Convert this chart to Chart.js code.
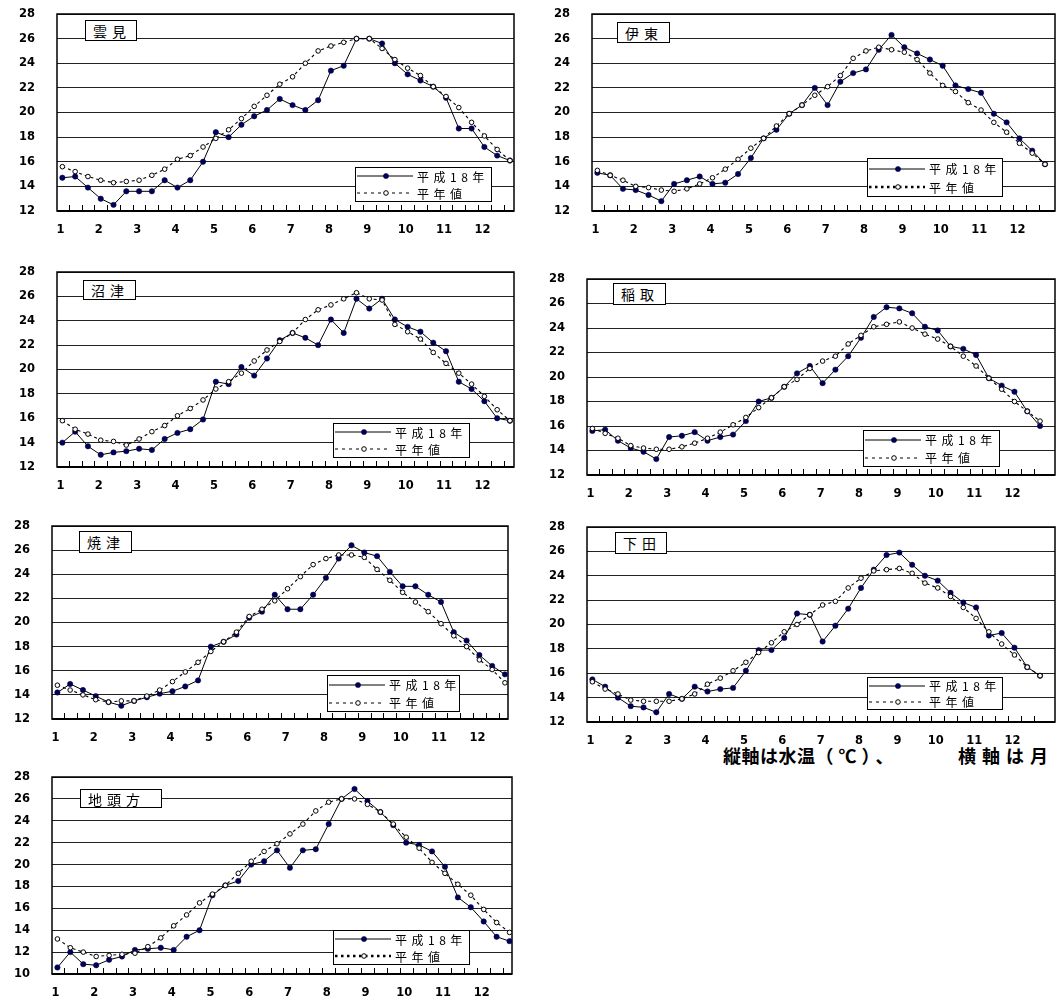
<!DOCTYPE html>
<html lang="ja">
<head>
<meta charset="utf-8">
<script src="https://cdn.jsdelivr.net/npm/chart.js@4/dist/chart.umd.min.js"></script>
<style>
  html, body { margin: 0; padding: 0; background: #fff; }
  body { position: relative; width: 1060px; height: 1000px; overflow: hidden; }
  canvas { position: absolute; }
  .station {
    position: absolute; box-sizing: border-box; background: #fff;
    border: 1px solid #000; padding-left: 7px;
    font: 14px "Noto Sans CJK JP", sans-serif; letter-spacing: 5px; color: #000;
    display: flex; align-items: center; white-space: nowrap;
  }
  .legend {
    position: absolute; box-sizing: border-box; background: #fff;
    border: 1px solid #000;
    font: 12px "Noto Sans CJK JP", sans-serif; letter-spacing: 4.5px; color: #000;
  }
  .legend .row { position: absolute; left: 0; width: 200px; height: 16px; display: flex; align-items: center; white-space: nowrap; }
  .legend svg { display: block; flex: none; margin-right: 3px; }
  .note {
    position: absolute; left: 723px; top: 744px; white-space: nowrap;
    font: bold 18px "Noto Sans CJK JP", sans-serif; line-height: 22px; color: #000;
  }
  .note .a { letter-spacing: 0.5px; }
  .note .b { letter-spacing: 5px; }
  .note .c { position: absolute; left: 235px; top: 0; letter-spacing: 6px; }
</style>
</head>
<body>
<div class="note"><span class="a">縦軸は水温</span><span class="b">（℃）、</span><span class="c">横軸は月</span></div>
<script>
// ---- categories: 36 ten-day periods (上旬・中旬・下旬 of each month) ----
const months = ['1', '2', '3', '4', '5', '6', '7', '8', '9', '10', '11', '12'];
const decades = ['上旬', '中旬', '下旬'];
const periods = months.flatMap(m => decades.map(d => m + '月' + d));

const seriesNames = ['平成18年', '平年値'];

// ---- water temperature (°C), 平成18年 and 平年値, per station ----
const kumomi2006 = [14.7,14.8,13.9,13.0,12.5,13.6,13.6,13.6,14.5,13.9,14.5,16.0,18.4,18.0,19.0,19.7,20.2,21.1,20.6,20.2,21.0,23.4,23.8,26.0,26.0,25.6,24.0,23.1,22.6,22.1,21.2,18.7,18.7,17.2,16.5,16.1];
const kumomiNormal = [15.6,15.2,14.8,14.5,14.3,14.4,14.5,14.9,15.4,16.2,16.5,17.2,17.9,18.6,19.5,20.5,21.4,22.3,22.9,24.0,25.0,25.4,25.7,26.0,26.0,25.2,24.3,23.6,23.0,22.1,21.3,20.4,19.2,18.1,17.0,16.1];

const ito2006 = [15.1,14.9,13.8,13.7,13.3,12.8,14.2,14.5,14.8,14.2,14.3,15.0,16.3,17.9,18.6,19.9,20.6,22.0,20.6,22.5,23.2,23.5,25.1,26.3,25.3,24.8,24.3,23.8,22.2,21.9,21.6,19.9,19.2,17.9,16.9,15.8];
const itoNormal = [15.3,14.9,14.5,14.0,13.9,13.7,13.6,13.8,14.2,14.7,15.4,16.2,17.1,17.9,18.9,19.9,20.6,21.4,22.1,23.0,24.4,25.0,25.3,25.1,24.9,24.3,23.2,22.2,21.7,20.8,20.2,19.2,18.4,17.5,16.7,15.8];

const numazu2006 = [14.0,14.9,13.7,13.0,13.2,13.3,13.5,13.4,14.3,14.8,15.1,15.9,19.0,18.8,20.2,19.5,20.9,22.4,23.0,22.6,22.0,24.1,23.0,25.8,25.0,25.8,24.1,23.5,23.1,22.2,21.5,19.0,18.4,17.4,16.0,15.8];
const numazuNormal = [15.8,15.1,14.7,14.2,14.1,13.8,14.3,14.9,15.4,16.2,16.8,17.5,18.4,19.0,19.7,20.7,21.6,22.3,23.0,24.1,24.9,25.3,25.8,26.3,25.8,25.7,23.7,23.1,22.5,21.4,20.5,19.7,18.8,17.8,16.7,15.8];

const inatori2006 = [15.6,15.7,14.8,14.2,13.9,13.3,15.1,15.2,15.5,14.8,15.1,15.3,16.4,18.0,18.3,19.2,20.3,20.9,19.5,20.6,21.7,23.2,24.9,25.7,25.6,25.2,24.1,23.8,22.5,22.3,21.8,19.9,19.3,18.8,17.2,16.0];
const inatoriNormal = [15.8,15.4,15.0,14.4,14.2,14.1,14.1,14.3,14.6,15.0,15.5,16.1,16.7,17.5,18.3,19.2,19.8,20.7,21.3,21.7,22.7,23.4,24.1,24.3,24.5,24.0,23.5,23.1,22.5,21.7,20.9,19.9,19.0,18.0,17.2,16.4];

const yaizu2006 = [14.2,14.9,14.4,13.9,13.4,13.1,13.5,13.8,14.1,14.3,14.7,15.2,18.0,18.4,19.0,20.4,20.9,22.3,21.1,21.1,22.3,23.7,25.3,26.4,25.8,25.5,24.2,23.0,23.0,22.3,21.7,19.2,18.5,17.3,16.4,15.7];
const yaizuNormal = [14.8,14.4,14.0,13.6,13.4,13.5,13.5,13.9,14.4,15.1,15.9,16.7,17.6,18.4,19.2,20.5,21.1,21.8,22.8,23.8,24.8,25.3,25.6,25.6,25.4,24.4,23.5,22.5,21.7,20.9,19.9,18.9,18.0,16.9,16.1,15.0];

const shimoda2006 = [15.5,14.9,14.0,13.3,13.2,12.8,14.3,13.9,14.9,14.5,14.7,14.8,16.2,17.9,17.9,18.9,20.9,20.8,18.6,19.9,21.3,23.0,24.5,25.7,25.9,24.9,24.0,23.6,22.6,21.8,21.4,19.1,19.3,18.1,16.5,15.8];
const shimodaNormal = [15.3,14.7,14.3,13.8,13.7,13.7,13.7,13.9,14.3,15.1,15.6,16.2,16.9,17.7,18.5,19.4,20.0,20.8,21.6,21.9,23.0,23.8,24.4,24.5,24.6,24.2,23.4,23.0,22.3,21.4,20.5,19.4,18.4,17.5,16.5,15.8];

const jitogata2006 = [10.6,12.0,10.9,10.8,11.3,11.6,12.2,12.3,12.4,12.2,13.4,14.0,17.2,18.1,18.5,20.0,20.3,21.3,19.7,21.3,21.4,23.7,26.0,26.9,25.8,24.8,23.6,22.0,21.8,21.2,19.8,17.0,16.1,14.8,13.4,13.0];
const jitogataNormal = [13.2,12.4,12.0,11.6,11.7,11.8,11.9,12.5,13.3,14.4,15.4,16.5,17.3,18.1,19.2,20.3,21.2,21.9,22.8,23.7,24.9,25.7,26.0,26.0,25.5,24.8,23.7,22.5,21.5,20.2,19.2,18.2,17.2,15.9,14.7,13.8];

// ---- panel layout (plot rectangle, label box, legend box) ----
const panels = [
  { name: '雲見',   obs: kumomi2006,   norm: kumomiNormal,   plot: [57, 14, 518, 211],   yMin: 12, unit: 12.9,  box: [85, 20, 52, 21],   legend: [355, 167, 137, 35], heavyDots: false },
  { name: '伊東',   obs: ito2006,      norm: itoNormal,      plot: [592, 14, 1059, 211], yMin: 12, unit: 12.9,  box: [617, 22, 53, 21],  legend: [867, 158, 136, 39], heavyDots: true },
  { name: '沼津',   obs: numazu2006,   norm: numazuNormal,   plot: [57, 272, 518, 467],  yMin: 12, unit: 12.9,  box: [83, 280, 53, 20],  legend: [333, 423, 137, 35], heavyDots: false },
  { name: '稲取',   obs: inatori2006,  norm: inatoriNormal,  plot: [587, 279, 1059, 475], yMin: 12, unit: 12.9, box: [613, 283, 53, 22], legend: [863, 430, 137, 37], heavyDots: false },
  { name: '焼津',   obs: yaizu2006,    norm: yaizuNormal,    plot: [52, 526, 512, 719],  yMin: 12, unit: 12.9,  box: [79, 531, 53, 22],  legend: [327, 675, 133, 37], heavyDots: false },
  { name: '下田',   obs: shimoda2006,  norm: shimodaNormal,  plot: [587, 527, 1059, 722], yMin: 12, unit: 12.9, box: [615, 532, 52, 22], legend: [867, 677, 136, 33], heavyDots: false },
  { name: '地頭方', obs: jitogata2006, norm: jitogataNormal, plot: [52, 777, 516, 974],  yMin: 10, unit: 13.03, box: [80, 789, 82, 19], legend: [333, 930, 137, 35], heavyDots: true }
];

const X_MIN = -0.42;
const monthTickValues = months.map((m, k) => 3 * k - 0.15);
const periodTickMarks = periods.slice(1).map((p, i) => i + 0.5);

const tickFont = { family: 'DejaVu Sans', weight: 'bold', size: 11.5 };

// plot frame on all four sides, plus short inward tick marks between ten-day periods
const framePlugin = {
  id: 'frame',
  beforeDatasetsDraw(chart) {
    const { ctx, chartArea: a } = chart;
    const xs = chart.scales.x;
    ctx.save();
    ctx.strokeStyle = '#000';
    ctx.lineWidth = 1;
    ctx.beginPath();
    periodTickMarks.forEach(v => {
      const px = Math.round(xs.getPixelForValue(v)) + 0.5;
      ctx.moveTo(px, a.bottom);
      ctx.lineTo(px, a.bottom - 6);
    });
    ctx.stroke();
    ctx.lineWidth = 1.5;
    ctx.strokeRect(a.left, a.top, a.right - a.left, a.bottom - a.top);
    ctx.lineWidth = 2;
    ctx.beginPath();
    ctx.moveTo(a.left, a.bottom);
    ctx.lineTo(a.right, a.bottom);
    ctx.stroke();
    ctx.restore();
  }
};

function addStationBox(p) {
  const d = document.createElement('div');
  d.className = 'station';
  const [l, t, w, h] = p.box;
  Object.assign(d.style, { left: l + 'px', top: t + 'px', width: w + 'px', height: h + 'px' });
  d.textContent = p.name;
  document.body.appendChild(d);
}

function legendSample(solid, heavy) {
  const NS = 'http://www.w3.org/2000/svg';
  const svg = document.createElementNS(NS, 'svg');
  svg.setAttribute('width', '58'); svg.setAttribute('height', '10');
  const line = document.createElementNS(NS, 'line');
  line.setAttribute('x1', '1'); line.setAttribute('x2', '57');
  line.setAttribute('y1', '5'); line.setAttribute('y2', '5');
  line.setAttribute('stroke', '#000');
  if (solid) {
    line.setAttribute('stroke-width', '1');
  } else if (heavy) {
    line.setAttribute('stroke-width', '2.4');
    line.setAttribute('stroke-dasharray', '2.5 3.5');
  } else {
    line.setAttribute('stroke-width', '1');
    line.setAttribute('stroke-dasharray', '3 4');
  }
  svg.appendChild(line);
  const c = document.createElementNS(NS, 'circle');
  c.setAttribute('cx', '30'); c.setAttribute('cy', '5');
  c.setAttribute('r', solid ? '2.6' : '2.3');
  c.setAttribute('fill', solid ? '#00005a' : '#fff');
  c.setAttribute('stroke', solid ? '#00003a' : '#000');
  c.setAttribute('stroke-width', solid ? '0.5' : '1');
  svg.appendChild(c);
  return svg;
}

function addLegend(p) {
  const [l, t, w, h] = p.legend;
  const box = document.createElement('div');
  box.className = 'legend';
  Object.assign(box.style, { left: l + 'px', top: t + 'px', width: w + 'px', height: h + 'px' });
  [0.27, 0.75].forEach((frac, k) => {
    const row = document.createElement('div');
    row.className = 'row';
    row.style.top = (h * frac - 9) + 'px';
    row.appendChild(legendSample(k === 0, p.heavyDots));
    const s = document.createElement('span');
    s.textContent = seriesNames[k];
    row.appendChild(s);
    box.appendChild(row);
  });
  document.body.appendChild(box);
}

function buildPanel(p) {
  const [L, T, R, B] = p.plot;
  const yAxisW = 50, padTop = 8, xAxisH = 28;
  const cLeft = L - yAxisW, cTop = T - padTop;
  const w = R - cLeft + 1, h = B - cTop + xAxisH;
  const xMax = X_MIN + (R - L) / p.unit;

  const canvas = document.createElement('canvas');
  canvas.width = w; canvas.height = h;
  Object.assign(canvas.style, { left: cLeft + 'px', top: cTop + 'px', width: w + 'px', height: h + 'px' });
  document.body.appendChild(canvas);

  const toPoints = arr => arr.map((v, i) => ({ x: i, y: v }));
  const noEdgePadding = axis => {
    axis.paddingTop = 0; axis.paddingBottom = 0;
    axis.paddingLeft = 0; axis.paddingRight = 0;
  };

  new Chart(canvas, {
    type: 'line',
    data: {
      datasets: [
        {
          label: seriesNames[1],
          data: toPoints(p.norm),
          borderColor: '#000', borderWidth: 1.1, borderDash: [3, 3],
          pointRadius: 2.3, pointBackgroundColor: '#fff',
          pointBorderColor: '#000', pointBorderWidth: 1,
          fill: false, tension: 0
        },
        {
          label: seriesNames[0],
          data: toPoints(p.obs),
          borderColor: '#000', borderWidth: 1,
          pointRadius: 2.7, pointBackgroundColor: '#00005a',
          pointBorderColor: '#00003a', pointBorderWidth: 0.5,
          fill: false, tension: 0
        }
      ]
    },
    options: {
      responsive: false,
      devicePixelRatio: 1,
      animation: false,
      events: [],
      layout: { padding: { top: padTop, right: 1, left: 0, bottom: 0 } },
      plugins: { legend: { display: false }, tooltip: { enabled: false } },
      scales: {
        x: {
          type: 'linear', position: 'bottom', weight: 0,
          min: X_MIN, max: xMax,
          afterBuildTicks: axis => { axis.ticks = periodTickMarks.map(v => ({ value: v })); },
          afterFit: axis => { axis.height = 0; noEdgePadding(axis); },
          ticks: { display: false },
          border: { display: false },
          grid: { display: false }
        },
        xm: {
          type: 'linear', position: 'bottom', weight: 1,
          min: X_MIN, max: xMax,
          afterBuildTicks: axis => { axis.ticks = monthTickValues.map(v => ({ value: v })); },
          afterFit: axis => { axis.height = xAxisH; noEdgePadding(axis); },
          ticks: {
            autoSkip: false, maxRotation: 0, minRotation: 0,
            font: tickFont, color: '#000', padding: 12,
            callback: (v, i) => months[i]
          },
          border: { display: false },
          grid: { display: false, drawTicks: false }
        },
        y: {
          type: 'linear', position: 'left',
          min: p.yMin, max: 28,
          afterFit: axis => { axis.width = yAxisW; noEdgePadding(axis); },
          ticks: { stepSize: 2, font: tickFont, color: '#000', padding: 22 },
          border: { display: false },
          grid: { color: '#222', lineWidth: 1, drawTicks: false }
        }
      }
    },
    plugins: [framePlugin]
  });

  addStationBox(p);
  addLegend(p);
}

panels.forEach(buildPanel);
</script>
</body>
</html>
